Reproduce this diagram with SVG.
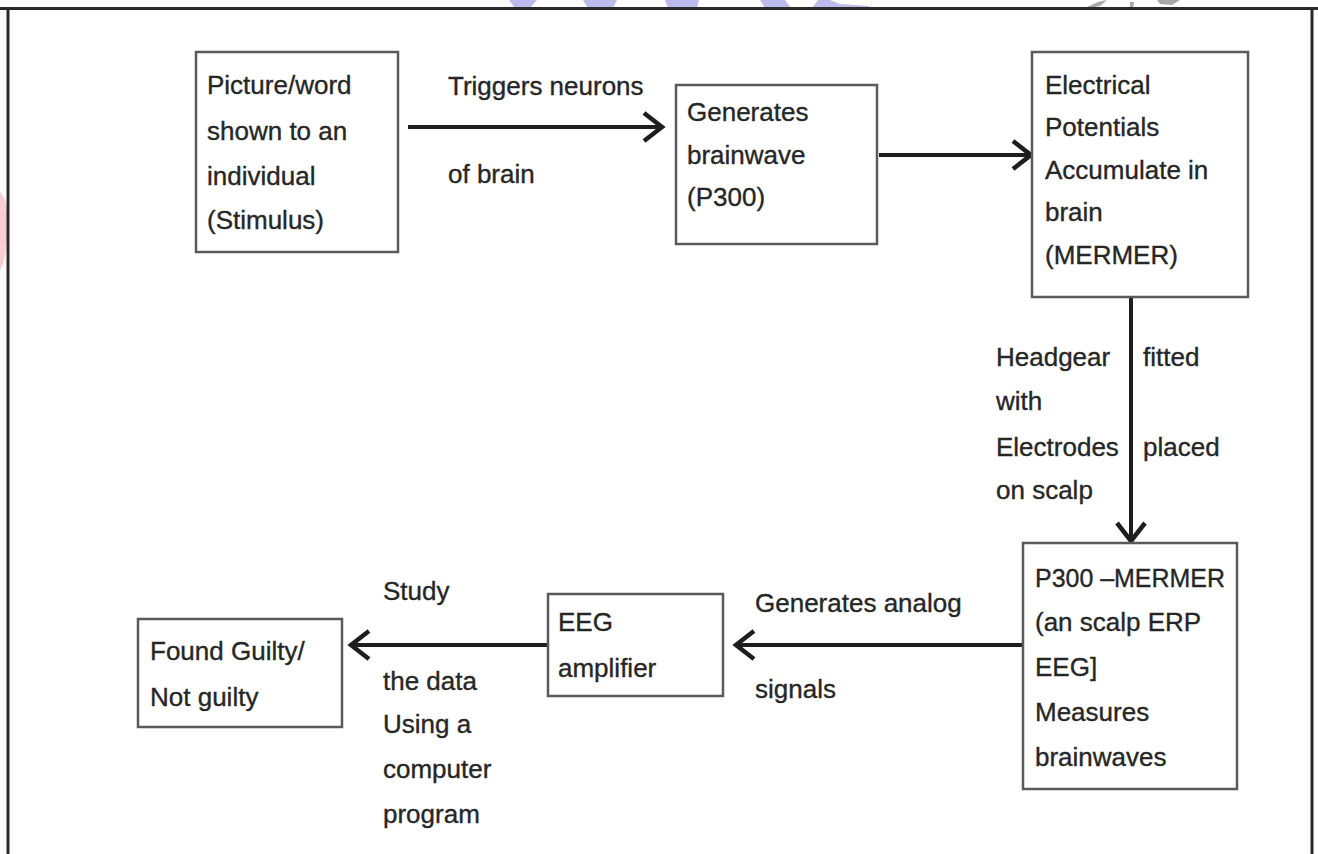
<svg xmlns="http://www.w3.org/2000/svg" width="1318" height="854" viewBox="0 0 1318 854">
<style>
  .box { fill: #ffffff; stroke: #5a5a5a; stroke-width: 2.5; }
  .t { font-family: "Liberation Sans", Arial, sans-serif; font-size: 26px; fill: #262626; stroke: #262626; stroke-width: 0.35; }
  .conn { stroke: #1e1e1e; stroke-width: 4; fill: none; }
  .wm { fill: #bcbcec; }
  .wg { fill: #a8a8a8; }
</style>
<defs>
  <marker id="arr" markerUnits="userSpaceOnUse" markerWidth="30" markerHeight="34" refX="24" refY="16" orient="auto">
    <path d="M6,2 L24,16 L6,30" fill="none" stroke="#1e1e1e" stroke-width="4.5" stroke-linejoin="miter"/>
  </marker>
</defs>
<rect width="1318" height="854" fill="#ffffff"/>
<g id="watermark">
  <path class="wm" d="M509,0 L537,0 L530,8 L515,8 Z"/>
  <path class="wm" d="M583,0 L617,0 L613,8 L588,8 Z"/>
  <path class="wm" d="M665,0 L699,0 L697,8 L668,8 Z"/>
  <path class="wm" d="M760,0 L785,0 L791,8 L765,8 Z"/>
  <path class="wm" d="M818,0 L830,0 L840,4 L869,6 L869,8 L812,8 Z"/>
  <path class="wg" d="M1085,8 L1098,2 L1107,0 L1100,6 L1090,8 Z"/>
  <path class="wg" d="M1130,2 L1134,2 L1133,8 L1130,8 Z"/>
  <path class="wg" d="M1157,0 L1180,0 L1172,5 L1160,4 Z"/>
  <path d="M0,192 Q9,200 7,232 Q6,262 0,270 Z" fill="#f8cdd4"/>
</g>
<g id="frame" stroke="#2a2a2a" fill="none">
  <line x1="0" y1="8.5" x2="1318" y2="8.5" stroke-width="3"/>
  <line x1="8" y1="9" x2="8" y2="854" stroke-width="3"/>
  <line x1="1312" y1="9" x2="1312" y2="854" stroke-width="3"/>
</g>
<g id="connectors">
  <line class="conn" x1="408" y1="127" x2="662" y2="127" marker-end="url(#arr)"/>
  <line class="conn" x1="879" y1="155" x2="1031" y2="155" marker-end="url(#arr)"/>
  <line class="conn" x1="1131" y1="298" x2="1131" y2="541" marker-end="url(#arr)"/>
  <line class="conn" x1="1022" y1="645" x2="736" y2="645" marker-end="url(#arr)"/>
  <line class="conn" x1="548" y1="645" x2="351" y2="645" marker-end="url(#arr)"/>
  <g id="connector-labels">
    <text class="t" x="448" y="95">Triggers neurons</text>
    <text class="t" x="448" y="183">of brain</text>
    <text class="t" x="996" y="366">Headgear</text>
    <text class="t" x="996" y="410">with</text>
    <text class="t" x="996" y="456">Electrodes</text>
    <text class="t" x="996" y="499">on scalp</text>
    <text class="t" x="1143" y="366">fitted</text>
    <text class="t" x="1143" y="456">placed</text>
    <text class="t" x="755" y="612">Generates analog</text>
    <text class="t" x="755" y="698">signals</text>
    <text class="t" x="383" y="600">Study</text>
    <text class="t" x="383" y="690">the data</text>
    <text class="t" x="383" y="733">Using a</text>
    <text class="t" x="383" y="778">computer</text>
    <text class="t" x="383" y="823">program</text>
  </g>
</g>
<g id="stimulus">
  <rect class="box" x="196" y="52" width="202" height="200"/>
  <text class="t" x="207" y="94">Picture/word</text>
  <text class="t" x="207" y="140">shown to an</text>
  <text class="t" x="207" y="185">individual</text>
  <text class="t" x="207" y="229">(Stimulus)</text>
</g>
<g id="brainwave">
  <rect class="box" x="676" y="85" width="201" height="159"/>
  <text class="t" x="687" y="121">Generates</text>
  <text class="t" x="687" y="164">brainwave</text>
  <text class="t" x="687" y="206">(P300)</text>
</g>
<g id="potentials">
  <rect class="box" x="1032" y="52" width="216" height="245"/>
  <text class="t" x="1045" y="94">Electrical</text>
  <text class="t" x="1045" y="136">Potentials</text>
  <text class="t" x="1045" y="179">Accumulate in</text>
  <text class="t" x="1045" y="221">brain</text>
  <text class="t" x="1045" y="264">(MERMER)</text>
</g>
<g id="p300-mermer">
  <rect class="box" x="1023" y="543" width="214" height="246"/>
  <text class="t" x="1035" y="587" textLength="190" lengthAdjust="spacingAndGlyphs">P300 –MERMER</text>
  <text class="t" x="1035" y="631">(an scalp ERP</text>
  <text class="t" x="1035" y="676">EEG]</text>
  <text class="t" x="1035" y="721">Measures</text>
  <text class="t" x="1035" y="766">brainwaves</text>
</g>
<g id="eeg-amplifier">
  <rect class="box" x="548" y="594" width="175" height="102"/>
  <text class="t" x="558" y="631">EEG</text>
  <text class="t" x="558" y="677">amplifier</text>
</g>
<g id="verdict">
  <rect class="box" x="138" y="619" width="204" height="108"/>
  <text class="t" x="150" y="660">Found Guilty/</text>
  <text class="t" x="150" y="706">Not guilty</text>
</g>
</svg>
